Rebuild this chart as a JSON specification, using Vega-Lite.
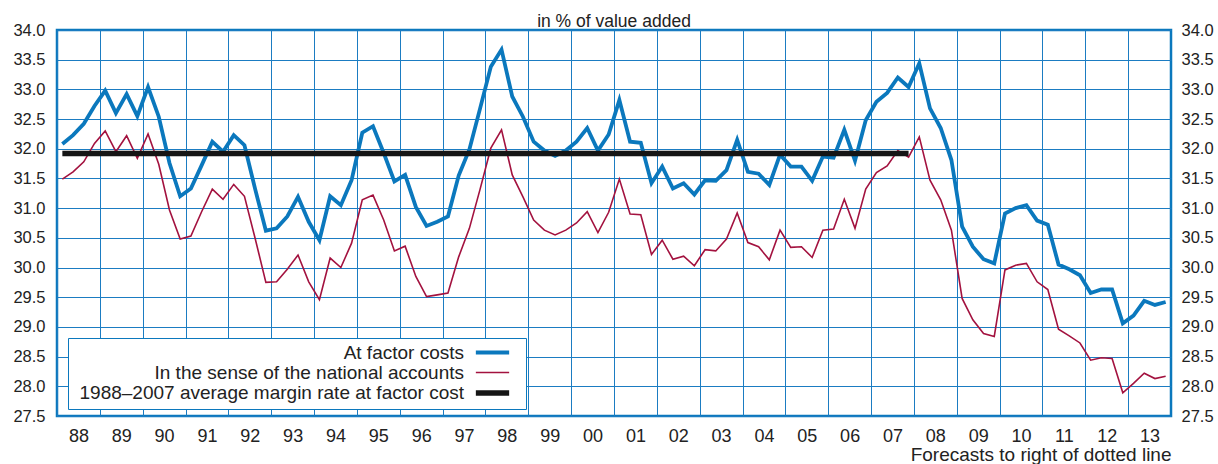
{
  "$schema": "https://vega.github.io/schema/vega-lite/v6.json",
  "width": 1114,
  "height": 386,
  "autosize": "none",
  "padding": {"left": 57, "top": 30, "right": 47, "bottom": 48},
  "background": "white",
  "config": {
    "font": "Liberation Sans",
    "view": {"stroke": "#0b78bd", "strokeWidth": 2.5}
  },
  "title": {"text": "in % of value added", "fontSize": 17.5, "fontWeight": "normal", "color": "#222", "anchor": "middle", "frame": "group", "offset": -8},
  "datasets": {
    "quarters": [
      {"time": 1988.125, "At factor costs": 32.08, "In the sense of the national accounts": 31.49},
      {"time": 1988.375, "At factor costs": 32.23, "In the sense of the national accounts": 31.61},
      {"time": 1988.625, "At factor costs": 32.42, "In the sense of the national accounts": 31.78},
      {"time": 1988.875, "At factor costs": 32.72, "In the sense of the national accounts": 32.09},
      {"time": 1989.125, "At factor costs": 32.98, "In the sense of the national accounts": 32.30},
      {"time": 1989.375, "At factor costs": 32.60, "In the sense of the national accounts": 31.95},
      {"time": 1989.625, "At factor costs": 32.92, "In the sense of the national accounts": 32.22},
      {"time": 1989.875, "At factor costs": 32.55, "In the sense of the national accounts": 31.84},
      {"time": 1990.125, "At factor costs": 33.04, "In the sense of the national accounts": 32.25},
      {"time": 1990.375, "At factor costs": 32.54, "In the sense of the national accounts": 31.74},
      {"time": 1990.625, "At factor costs": 31.76, "In the sense of the national accounts": 30.97},
      {"time": 1990.875, "At factor costs": 31.20, "In the sense of the national accounts": 30.48},
      {"time": 1991.125, "At factor costs": 31.33, "In the sense of the national accounts": 30.53},
      {"time": 1991.375, "At factor costs": 31.72, "In the sense of the national accounts": 30.94},
      {"time": 1991.625, "At factor costs": 32.12, "In the sense of the national accounts": 31.32},
      {"time": 1991.875, "At factor costs": 31.95, "In the sense of the national accounts": 31.15},
      {"time": 1992.125, "At factor costs": 32.23, "In the sense of the national accounts": 31.40},
      {"time": 1992.375, "At factor costs": 32.06, "In the sense of the national accounts": 31.20},
      {"time": 1992.625, "At factor costs": 31.32, "In the sense of the national accounts": 30.49},
      {"time": 1992.875, "At factor costs": 30.62, "In the sense of the national accounts": 29.75},
      {"time": 1993.125, "At factor costs": 30.66, "In the sense of the national accounts": 29.76},
      {"time": 1993.375, "At factor costs": 30.86, "In the sense of the national accounts": 29.97},
      {"time": 1993.625, "At factor costs": 31.19, "In the sense of the national accounts": 30.21},
      {"time": 1993.875, "At factor costs": 30.77, "In the sense of the national accounts": 29.76},
      {"time": 1994.125, "At factor costs": 30.46, "In the sense of the national accounts": 29.46},
      {"time": 1994.375, "At factor costs": 31.20, "In the sense of the national accounts": 30.16},
      {"time": 1994.625, "At factor costs": 31.05, "In the sense of the national accounts": 30.00},
      {"time": 1994.875, "At factor costs": 31.47, "In the sense of the national accounts": 30.41},
      {"time": 1995.125, "At factor costs": 32.27, "In the sense of the national accounts": 31.14},
      {"time": 1995.375, "At factor costs": 32.38, "In the sense of the national accounts": 31.22},
      {"time": 1995.625, "At factor costs": 31.93, "In the sense of the national accounts": 30.80},
      {"time": 1995.875, "At factor costs": 31.45, "In the sense of the national accounts": 30.28},
      {"time": 1996.125, "At factor costs": 31.56, "In the sense of the national accounts": 30.36},
      {"time": 1996.375, "At factor costs": 31.02, "In the sense of the national accounts": 29.85},
      {"time": 1996.625, "At factor costs": 30.70, "In the sense of the national accounts": 29.51},
      {"time": 1996.875, "At factor costs": 30.77, "In the sense of the national accounts": 29.54},
      {"time": 1997.125, "At factor costs": 30.86, "In the sense of the national accounts": 29.57},
      {"time": 1997.375, "At factor costs": 31.55, "In the sense of the national accounts": 30.18},
      {"time": 1997.625, "At factor costs": 31.99, "In the sense of the national accounts": 30.66},
      {"time": 1997.875, "At factor costs": 32.68, "In the sense of the national accounts": 31.32},
      {"time": 1998.125, "At factor costs": 33.38, "In the sense of the national accounts": 32.01},
      {"time": 1998.375, "At factor costs": 33.67, "In the sense of the national accounts": 32.32},
      {"time": 1998.625, "At factor costs": 32.88, "In the sense of the national accounts": 31.56},
      {"time": 1998.875, "At factor costs": 32.54, "In the sense of the national accounts": 31.19},
      {"time": 1999.125, "At factor costs": 32.12, "In the sense of the national accounts": 30.80},
      {"time": 1999.375, "At factor costs": 31.97, "In the sense of the national accounts": 30.63},
      {"time": 1999.625, "At factor costs": 31.88, "In the sense of the national accounts": 30.55},
      {"time": 1999.875, "At factor costs": 31.97, "In the sense of the national accounts": 30.63},
      {"time": 2000.125, "At factor costs": 32.12, "In the sense of the national accounts": 30.75},
      {"time": 2000.375, "At factor costs": 32.35, "In the sense of the national accounts": 30.94},
      {"time": 2000.625, "At factor costs": 31.97, "In the sense of the national accounts": 30.59},
      {"time": 2000.875, "At factor costs": 32.24, "In the sense of the national accounts": 30.93},
      {"time": 2001.125, "At factor costs": 32.82, "In the sense of the national accounts": 31.49},
      {"time": 2001.375, "At factor costs": 32.12, "In the sense of the national accounts": 30.90},
      {"time": 2001.625, "At factor costs": 32.10, "In the sense of the national accounts": 30.89},
      {"time": 2001.875, "At factor costs": 31.42, "In the sense of the national accounts": 30.22},
      {"time": 2002.125, "At factor costs": 31.70, "In the sense of the national accounts": 30.46},
      {"time": 2002.375, "At factor costs": 31.33, "In the sense of the national accounts": 30.14},
      {"time": 2002.625, "At factor costs": 31.42, "In the sense of the national accounts": 30.19},
      {"time": 2002.875, "At factor costs": 31.23, "In the sense of the national accounts": 30.03},
      {"time": 2003.125, "At factor costs": 31.47, "In the sense of the national accounts": 30.30},
      {"time": 2003.375, "At factor costs": 31.46, "In the sense of the national accounts": 30.28},
      {"time": 2003.625, "At factor costs": 31.64, "In the sense of the national accounts": 30.48},
      {"time": 2003.875, "At factor costs": 32.15, "In the sense of the national accounts": 30.92},
      {"time": 2004.125, "At factor costs": 31.61, "In the sense of the national accounts": 30.42},
      {"time": 2004.375, "At factor costs": 31.58, "In the sense of the national accounts": 30.35},
      {"time": 2004.625, "At factor costs": 31.39, "In the sense of the national accounts": 30.13},
      {"time": 2004.875, "At factor costs": 31.90, "In the sense of the national accounts": 30.63},
      {"time": 2005.125, "At factor costs": 31.70, "In the sense of the national accounts": 30.34},
      {"time": 2005.375, "At factor costs": 31.70, "In the sense of the national accounts": 30.35},
      {"time": 2005.625, "At factor costs": 31.46, "In the sense of the national accounts": 30.17},
      {"time": 2005.875, "At factor costs": 31.87, "In the sense of the national accounts": 30.63},
      {"time": 2006.125, "At factor costs": 31.85, "In the sense of the national accounts": 30.65},
      {"time": 2006.375, "At factor costs": 32.32, "In the sense of the national accounts": 31.15},
      {"time": 2006.625, "At factor costs": 31.80, "In the sense of the national accounts": 30.66},
      {"time": 2006.875, "At factor costs": 32.48, "In the sense of the national accounts": 31.32},
      {"time": 2007.125, "At factor costs": 32.79, "In the sense of the national accounts": 31.60},
      {"time": 2007.375, "At factor costs": 32.94, "In the sense of the national accounts": 31.71},
      {"time": 2007.625, "At factor costs": 33.20, "In the sense of the national accounts": 31.97},
      {"time": 2007.875, "At factor costs": 33.04, "In the sense of the national accounts": 31.86},
      {"time": 2008.125, "At factor costs": 33.44, "In the sense of the national accounts": 32.20},
      {"time": 2008.375, "At factor costs": 32.68, "In the sense of the national accounts": 31.47},
      {"time": 2008.625, "At factor costs": 32.35, "In the sense of the national accounts": 31.14},
      {"time": 2008.875, "At factor costs": 31.81, "In the sense of the national accounts": 30.63},
      {"time": 2009.125, "At factor costs": 30.69, "In the sense of the national accounts": 29.48},
      {"time": 2009.375, "At factor costs": 30.35, "In the sense of the national accounts": 29.12},
      {"time": 2009.625, "At factor costs": 30.14, "In the sense of the national accounts": 28.89},
      {"time": 2009.875, "At factor costs": 30.07, "In the sense of the national accounts": 28.84},
      {"time": 2010.125, "At factor costs": 30.91, "In the sense of the national accounts": 29.96},
      {"time": 2010.375, "At factor costs": 31.00, "In the sense of the national accounts": 30.04},
      {"time": 2010.625, "At factor costs": 31.05, "In the sense of the national accounts": 30.07},
      {"time": 2010.875, "At factor costs": 30.79, "In the sense of the national accounts": 29.76},
      {"time": 2011.125, "At factor costs": 30.72, "In the sense of the national accounts": 29.63},
      {"time": 2011.375, "At factor costs": 30.05, "In the sense of the national accounts": 28.96},
      {"time": 2011.625, "At factor costs": 29.97, "In the sense of the national accounts": 28.85},
      {"time": 2011.875, "At factor costs": 29.87, "In the sense of the national accounts": 28.73},
      {"time": 2012.125, "At factor costs": 29.57, "In the sense of the national accounts": 28.44},
      {"time": 2012.375, "At factor costs": 29.63, "In the sense of the national accounts": 28.48},
      {"time": 2012.625, "At factor costs": 29.63, "In the sense of the national accounts": 28.47},
      {"time": 2012.875, "At factor costs": 29.06, "In the sense of the national accounts": 27.89},
      {"time": 2013.125, "At factor costs": 29.19, "In the sense of the national accounts": 28.05},
      {"time": 2013.375, "At factor costs": 29.44, "In the sense of the national accounts": 28.22},
      {"time": 2013.625, "At factor costs": 29.37, "In the sense of the national accounts": 28.13},
      {"time": 2013.875, "At factor costs": 29.42, "In the sense of the national accounts": 28.17}
    ],
    "average": [
      {"time": 1988.125, "series": "1988–2007 average margin rate at factor cost", "value": 31.92},
      {"time": 2007.875, "series": "1988–2007 average margin rate at factor cost", "value": 31.92}
    ]
  },
  "resolve": {"axis": {"y": "independent"}},
  "layer": [
    {
      "data": {"name": "quarters"},
      "transform": [{"fold": ["In the sense of the national accounts", "At factor costs"], "as": ["series", "value"]}],
      "mark": {"type": "line"},
      "encoding": {
        "x": {
          "field": "time", "type": "quantitative",
          "scale": {"domain": [1988, 2014], "nice": false, "zero": false},
          "axis": {
            "values": [1988, 1989, 1990, 1991, 1992, 1993, 1994, 1995, 1996, 1997, 1998, 1999, 2000, 2001, 2002, 2003, 2004, 2005, 2006, 2007, 2008, 2009, 2010, 2011, 2012, 2013],
            "format": "d", "labelExpr": "substring(datum.label, 2)",
            "labelOffset": 21.4, "labelFlush": false, "labelOverlap": false,
            "ticks": false, "domain": false,
            "grid": true, "gridColor": "#1b7cc2", "gridWidth": 1, "gridOpacity": 1,
            "labelFontSize": 18, "labelColor": "#222", "labelPadding": 11,
            "title": "Forecasts to right of dotted line", "titleAnchor": "end", "titleFontSize": 19,
            "titleFontWeight": "normal", "titleColor": "#222", "titlePadding": 0
          }
        },
        "y": {
          "field": "value", "type": "quantitative",
          "scale": {"domain": [27.5, 34], "nice": false, "zero": false},
          "axis": {
            "orient": "left",
            "values": [27.5, 28, 28.5, 29, 29.5, 30, 30.5, 31, 31.5, 32, 32.5, 33, 33.5, 34],
            "format": ".1f", "ticks": false, "domain": false, "labelFlush": false, "labelOverlap": false,
            "grid": true, "gridColor": "#1b7cc2", "gridWidth": 1, "gridOpacity": 1,
            "labelFontSize": 16.5, "labelColor": "#222", "labelPadding": 12, "title": null
          }
        },
        "color": {
          "field": "series", "type": "nominal",
          "scale": {"domain": ["At factor costs", "In the sense of the national accounts", "1988–2007 average margin rate at factor cost"], "range": ["#0b78bd", "#a3123f", "#151515"]},
          "legend": {
            "orient": "none", "legendX": 11, "legendY": 308, "title": null, "direction": "vertical",
            "symbolType": "M-3.33,0H3.33", "symbolSize": 100, "symbolOffset": 410,
            "labelAlign": "right", "labelOffset": -38, "labelLimit": 700,
            "labelFontSize": 19, "labelColor": "#222",
            "fillColor": "white", "strokeColor": "#0b78bd", "padding": 5, "rowPadding": -1.5,
            "encode": {"symbols": {"update": {"strokeWidth": {"signal": "datum.value === 'At factor costs' ? 3.8 : datum.value === 'In the sense of the national accounts' ? 1.6 : 5.5"}}}}
          }
        },
        "strokeWidth": {
          "field": "series", "type": "nominal",
          "scale": {"type": "ordinal", "domain": ["At factor costs", "In the sense of the national accounts"], "range": [3.8, 1.6]},
          "legend": null
        }
      }
    },
    {
      "data": {"name": "average"},
      "mark": {"type": "line", "strokeCap": "butt", "strokeWidth": 5.5},
      "encoding": {
        "x": {"field": "time", "type": "quantitative"},
        "y": {
          "field": "value", "type": "quantitative",
          "scale": {"domain": [27.5, 34], "nice": false, "zero": false},
          "axis": {
            "orient": "right",
            "values": [27.5, 28, 28.5, 29, 29.5, 30, 30.5, 31, 31.5, 32, 32.5, 33, 33.5, 34],
            "format": ".1f", "ticks": false, "domain": false, "labelFlush": false, "labelOverlap": false,
            "grid": false, "labelFontSize": 16.5, "labelColor": "#222", "labelPadding": 10, "title": null
          }
        },
        "color": {"field": "series", "type": "nominal"}
      }
    },
    {
      "mark": {"type": "rule", "color": "#666666", "strokeWidth": 1.6, "strokeDash": [6, 4]},
      "encoding": {"x": {"datum": 2013, "type": "quantitative"}}
    }
  ]
}
